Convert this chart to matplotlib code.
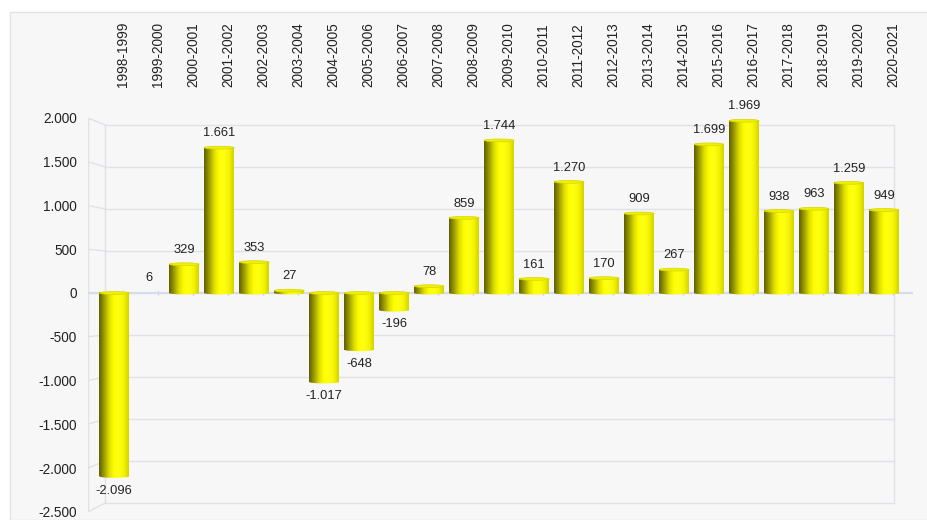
import numpy as np
import matplotlib
matplotlib.use("Agg")
import matplotlib.pyplot as plt
from matplotlib.colors import LinearSegmentedColormap
from matplotlib.patches import Rectangle, Ellipse
from matplotlib.transforms import blended_transform_factory, offset_copy
from matplotlib.ticker import FuncFormatter

plt.rcParams['font.family'] = ['Liberation Sans', 'DejaVu Sans']

# data
seasons = ['1998-1999', '1999-2000', '2000-2001', '2001-2002', '2002-2003',
           '2003-2004', '2004-2005', '2005-2006', '2006-2007', '2007-2008',
           '2008-2009', '2009-2010', '2010-2011', '2011-2012', '2012-2013',
           '2013-2014', '2014-2015', '2015-2016', '2016-2017', '2017-2018',
           '2018-2019', '2019-2020', '2020-2021']
values = [-2096, 6, 329, 1661, 353, 27, -1017, -648, -196, 78, 859, 1744,
          161, 1270, 170, 909, 267, 1699, 1969, 938, 963, 1259, 949]
yticks = [-2500, -2000, -1500, -1000, -500, 0, 500, 1000, 1500, 2000]


def dots(v, pos=None):
    # thousands separator as a dot
    s = '{:,.0f}'.format(v).replace(',', '.')
    return s


fig = plt.figure(figsize=(9.28, 5.2), dpi=100, facecolor='white')
fig.patches.append(Rectangle((10 / 928, 0), 1, 508 / 520, transform=fig.transFigure,
                             facecolor='#f7f7f7', edgecolor='#e4e4e4', lw=1, zorder=-5))
ax = fig.add_axes([88 / 928, 1 - 511.75 / 520, (913 - 88) / 928, (511.75 - 118) / 520])
ax.set_facecolor('none')

x = np.arange(len(values))
xl, xr = -0.75, 22.83
bx_l, bx_r, depth = -0.257, 22.29, 0.96

# 3d-ish walls
grid_c = '#e0e2e7'
for v in yticks:
    ax.plot([bx_l, bx_r], [v * depth, v * depth], color=grid_c, lw=1, zorder=1)
    ax.plot([xl, bx_l], [v, v * depth], color=grid_c, lw=1, zorder=1)
ax.plot([xl, xl], [yticks[0], yticks[-1]], color=grid_c, lw=1, zorder=1)
ax.plot([bx_l, bx_l], [yticks[0] * depth, yticks[-1] * depth], color=grid_c, lw=1, zorder=1)
ax.plot([bx_r, bx_r], [yticks[0] * depth, yticks[-1] * depth], color=grid_c, lw=1, zorder=1)

# zero floor line
ax.plot([xl, xr], [0, 0], color='#d5ddec', lw=1.5, zorder=2)
for i in x:
    ax.plot([i + 0.26, i + 0.26], [-20, 20], color='#d5ddec', lw=1, zorder=2)

bars = ax.bar(x, values, width=0.857, color='none', edgecolor='none', zorder=3)

cyl = LinearSegmentedColormap.from_list('cyl', ['#5e5e00', '#9a9a00', '#dcdc00',
                                                '#ffff00', '#ffff14', '#f4f400', '#d2d200'])
grad = np.linspace(0, 1, 256).reshape(1, -1)
cap_h = 32
for b in bars:
    x0, w = b.get_x(), b.get_width()
    y0, h = b.get_y(), b.get_height()
    lo, hi = min(y0, y0 + h), max(y0, y0 + h)
    if hi - lo < 12:
        continue
    ax.imshow(grad, cmap=cyl, extent=[x0, x0 + w, lo, hi], aspect='auto',
              interpolation='bicubic', zorder=4)
    # rounded bottom
    eb = Ellipse((x0 + w / 2, lo), w, cap_h, facecolor='none', edgecolor='none', zorder=4)
    ax.add_patch(eb)
    im = ax.imshow(grad, cmap=cyl, extent=[x0, x0 + w, lo - cap_h, lo + 1], aspect='auto',
                   interpolation='bicubic', zorder=4)
    im.set_clip_path(eb)
    # top cap
    ax.add_patch(Ellipse((x0 + w / 2, hi), w, cap_h, facecolor='#f0f000',
                         edgecolor='#d6d600', lw=0.5, zorder=5))

# value labels
for b, v in zip(bars, values):
    cx = b.get_x() + b.get_width() / 2
    if v >= 0:
        ax.annotate(dots(v), (cx, v), xytext=(0, 6), textcoords='offset points',
                    ha='center', va='bottom', fontsize=9.3, color='#222222', zorder=6)
    else:
        ax.annotate(dots(v), (cx, v), xytext=(0, -6), textcoords='offset points',
                    ha='center', va='top', fontsize=9.3, color='#222222', zorder=6)

# category labels on top
trans = offset_copy(blended_transform_factory(ax.transData, ax.transAxes),
                    fig=fig, x=0, y=22.5, units='points')
for i, s in zip(x, seasons):
    ax.text(i + 0.26, 1, s, transform=trans, rotation=90, ha='center', va='bottom',
            fontsize=9.8, color='#222222')

ax.set_xlim(xl, xr)
ax.set_ylim(-2500, 2000)
ax.set_xticks([])
ax.set_yticks(yticks)
ax.yaxis.set_major_formatter(FuncFormatter(dots))
ax.tick_params(axis='y', length=0, pad=8, labelsize=9.8, labelcolor='#222222')
for sp in ax.spines.values():
    sp.set_visible(False)

fig.savefig('out.png', dpi=100, facecolor='white')
